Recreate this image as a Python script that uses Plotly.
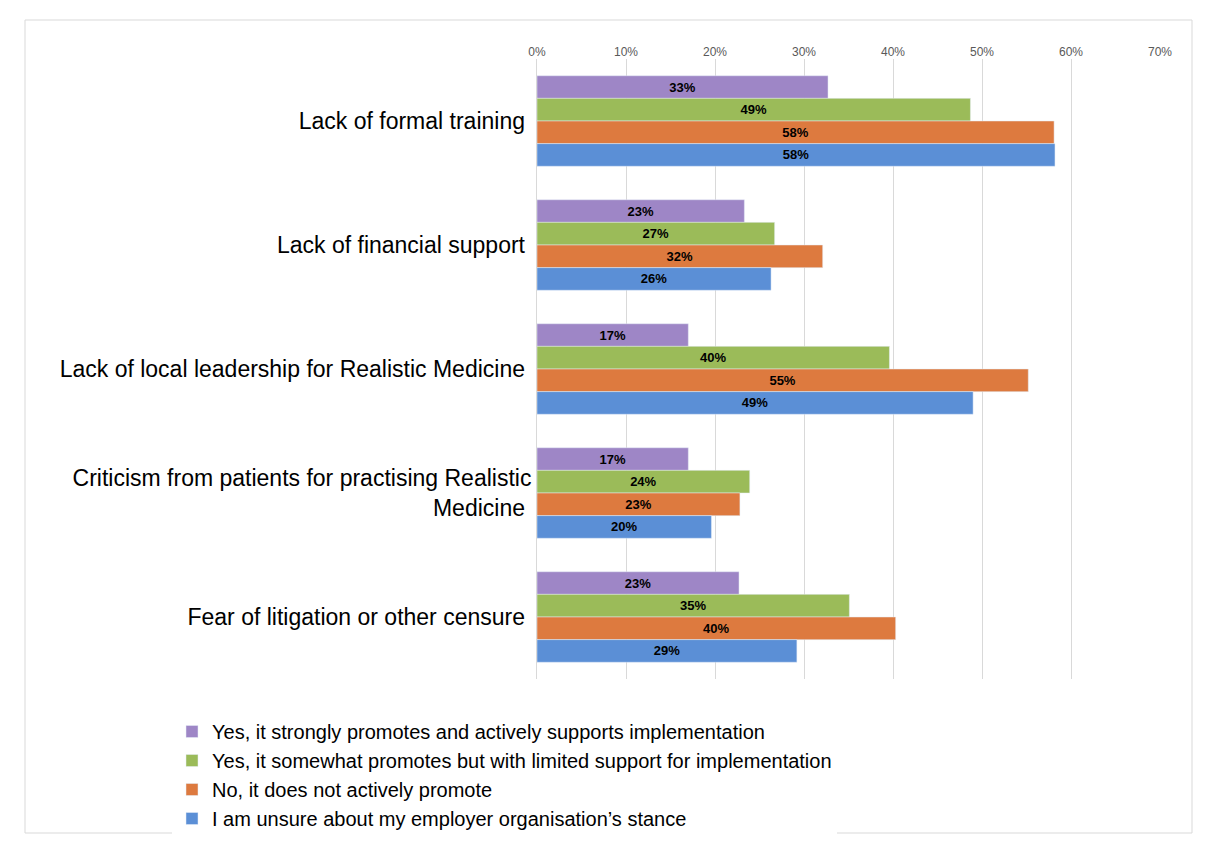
import plotly.graph_objects as go

categories = ["Lack of formal training", "Lack of financial support",
              "Lack of local leadership for Realistic Medicine",
              "Criticism from patients for practising Realistic<br>Medicine",
              "Fear of litigation or other censure"]
series_names = ["Yes, it strongly promotes and actively supports implementation",
                "Yes, it somewhat promotes but with limited support for implementation",
                "No, it does not actively promote",
                "I am unsure about my employer organisation’s stance"]
strongly = [0.327, 0.233, 0.170, 0.170, 0.227]
somewhat = [0.487, 0.267, 0.396, 0.239, 0.351]
not_promote = [0.581, 0.321, 0.552, 0.228, 0.403]
unsure = [0.582, 0.263, 0.490, 0.196, 0.292]
colors = ["#9e86c6", "#9bbb59", "#dd7a3f", "#5b8fd6"]

fig = go.Figure()
for name, vals, c in zip(series_names, [strongly, somewhat, not_promote, unsure], colors):
    fig.add_trace(go.Bar(
        y=categories, x=vals, name=name, orientation="h", marker_color=c,
        text=[f"{round(v*100):.0f}%" for v in vals], textposition="inside",
        insidetextanchor="middle", textangle=0,
        textfont=dict(family="Arial", size=13, color="black", weight="bold"),
        hoverinfo="skip"))

W, H = 1230, 856
OFF = 8
L, R, T, B = 537 - OFF, 1160 - OFF, 59 - OFF, 679 - OFF
pw, ph = R - L, B - T
fig.update_layout(
    width=W, height=H, barmode="group", bargap=0.27, bargroupgap=0,
    margin=dict(l=L, r=W - R, t=T, b=H - B),
    plot_bgcolor="white", paper_bgcolor="white",
    font=dict(family="Arial", color="black"),
    xaxis=dict(side="top", range=[0, 0.7], dtick=0.1, tickformat=".0%",
               showgrid=True, gridcolor="#d9d9d9", zeroline=False,
               tickfont=dict(size=12, color="#595959"), fixedrange=True),
    yaxis=dict(autorange="reversed", tickfont=dict(size=23, color="black"),
               ticksuffix=" ", showline=True, linecolor="#d9d9d9"),
    legend=dict(x=(172 - OFF - L) / pw, y=(B - (712 - OFF)) / ph, xanchor="left", yanchor="top",
                traceorder="normal", font=dict(size=20), itemwidth=30,
                tracegroupgap=0),
    showlegend=True,
    shapes=[dict(type="rect", xref="paper", yref="paper",
                 x0=(25 - OFF - L) / pw, x1=(1192 - OFF - L) / pw,
                 y0=(B - (833 - OFF)) / ph, y1=(B - (20 - OFF)) / ph,
                 line=dict(color="#d9d9d9", width=1))],
)
fig.write_html("out.html")
